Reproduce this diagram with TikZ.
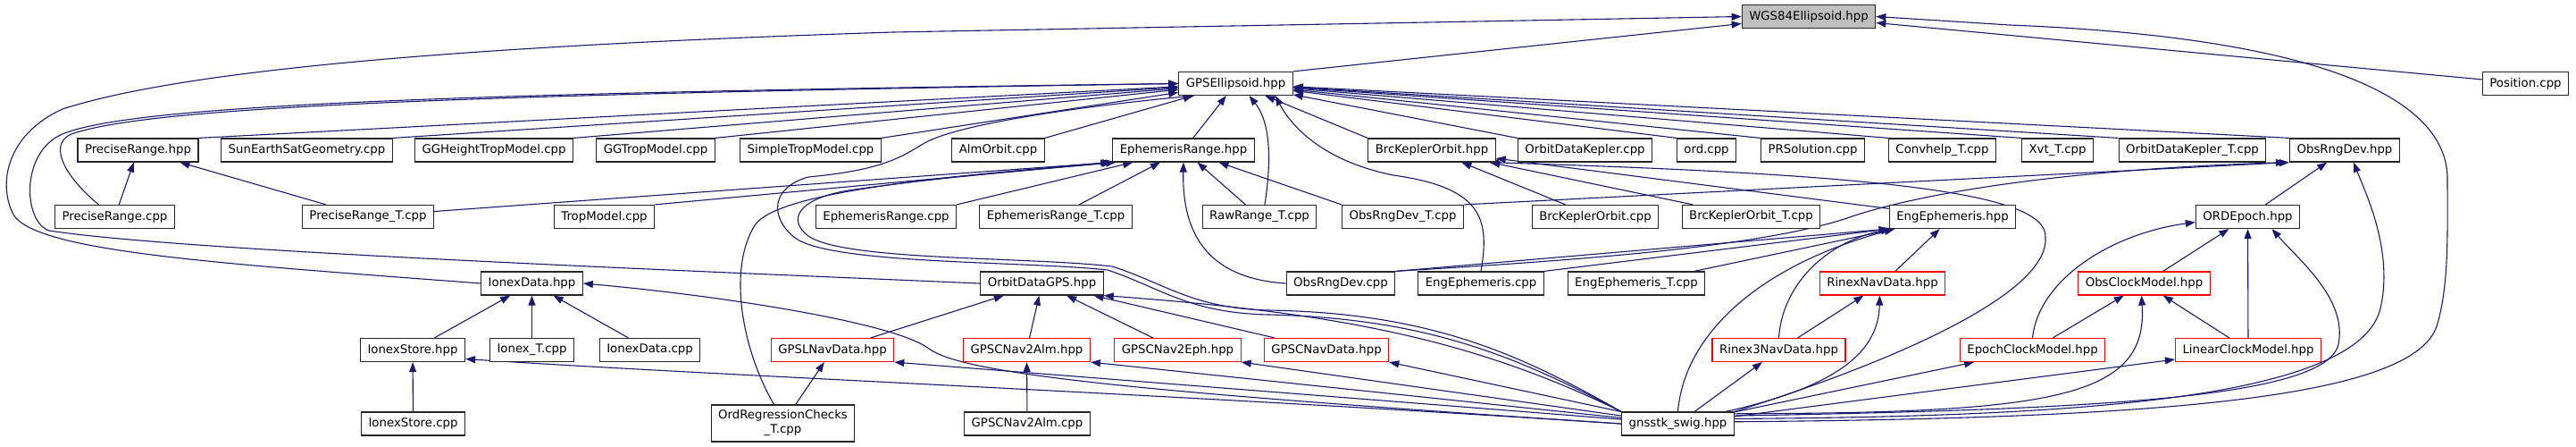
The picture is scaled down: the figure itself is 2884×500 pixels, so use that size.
\documentclass[tikz,border=0pt]{standalone}
\usepackage{fontspec}
\setsansfont{DejaVu Sans}
\usepackage{xcolor}
\definecolor{edgeblue}{RGB}{25,25,112}
\definecolor{rootgrey}{RGB}{191,191,191}
\tikzset{every picture/.style={/utils/exec={\sffamily}}}
\usetikzlibrary{calc}
\usetikzlibrary{arrows.meta,backgrounds}

\tikzset{
  file/.style={draw=black!85, line width=1.2pt, fill=white, minimum height=26pt,
    inner xsep=8pt, inner ysep=1pt, font=\fontsize{13.3}{16}\selectfont},
  trunc/.style={file, draw=red},
  root/.style={file, fill=rootgrey},
  inc/.style={draw=edgeblue, line width=1.1pt, -{Triangle[length=11pt,width=8pt]}},
}

\begin{document}
\begin{tikzpicture}[x=1pt, y=-1pt]
  \useasboundingbox (0,0) rectangle (2884,500);

  \node [root] (wgs) at (2025,18.5) {WGS84Ellipsoid.hpp};
  \node [file] (gpsell) at (1383.5,93.5) {GPSEllipsoid.hpp};
  \node [file] (posncpp) at (2827.5,93.5) {Position.cpp};

  \foreach \nm/\x/\lbl in {prh/154.5/PreciseRange.hpp, sunearth/343.5/SunEarthSatGeometry.cpp,
      gghtrop/553/GGHeightTropModel.cpp, ggtrop/734/GGTropModel.cpp, simptrop/907.5/SimpleTropModel.cpp,
      almorbit/1117.5/AlmOrbit.cpp, ephrh/1325/EphemerisRange.hpp, brckh/1603/BrcKeplerOrbit.hpp,
      odkepcpp/1774.5/OrbitDataKepler.cpp, ordcpp/1910.5/ord.cpp, prsol/2029.5/PRSolution.cpp,
      convhelp/2174.5/Convhelp\_T.cpp, xvtt/2303.5/Xvt\_T.cpp, odkept/2454.5/OrbitDataKepler\_T.cpp,
      ordevh/2625/ObsRngDev.hpp}
    \node [file] (\nm) at (\x,168) {\lbl};

  \foreach \nm/\x/\lbl in {prcpp/128.5/PreciseRange.cpp, prtcpp/412/PreciseRange\_T.cpp,
      tropcpp/676.5/TropModel.cpp, ephrcpp/992/EphemerisRange.cpp, ephrtcpp/1182/EphemerisRange\_T.cpp,
      rawrt/1410/RawRange\_T.cpp, ordevtcpp/1570.5/ObsRngDev\_T.cpp, brckcpp/1786/BrcKeplerOrbit.cpp,
      brcktcpp/1960.5/BrcKeplerOrbit\_T.cpp, engephh/2186/EngEphemeris.hpp, ordepoch/2516.5/ORDEpoch.hpp}
    \node [file] (\nm) at (\x,242.5) {\lbl};

  \foreach \nm/\x/\lbl in {ionexh/595.5/IonexData.hpp, odgps/1166.5/OrbitDataGPS.hpp,
      ordevcpp/1501/ObsRngDev.cpp, engephcpp/1658/EngEphemeris.cpp, engephtcpp/1832/EngEphemeris\_T.cpp}
    \node [file] (\nm) at (\x,317) {\lbl};
  \node [trunc] (rinexnav) at (2107.5,317) {RinexNavData.hpp};
  \node [trunc] (obsclock) at (2400.5,317) {ObsClockModel.hpp};

  \foreach \nm/\x/\lbl in {ionstoreh/462/IonexStore.hpp, ionext/595.5/Ionex\_T.cpp, ionexcpp/727.5/IonexData.cpp}
    \node [file] (\nm) at (\x,391.5) {\lbl};
  \foreach \nm/\x/\lbl in {gpslnav/932/GPSLNavData.hpp, cnav2almh/1149.5/GPSCNav2Alm.hpp,
      cnav2eph/1318.5/GPSCNav2Eph.hpp, cnavdata/1485/GPSCNavData.hpp, rinex3nav/1991.5/Rinex3NavData.hpp,
      epochclock/2275.5/EpochClockModel.hpp, linclock/2517/LinearClockModel.hpp}
    \node [trunc] (\nm) at (\x,391.5) {\lbl};

  \node [file] (ionstorecpp) at (462.5,474) {IonexStore.cpp};
  \node [file, minimum height=41pt, align=center] (ordreg) at (876.5,473.5) {OrdRegressionChecks\\\_T.cpp};
  \node [file] (cnav2almcpp) at (1150,474) {GPSCNav2Alm.cpp};
  \node [file] (swig) at (1878.5,474) {gnsstk\_swig.hpp};

  \begin{scope}[on background layer]
    \fill [white] (0,0) rectangle (2884,500);

    \foreach \src/\dst in {gpsell.north east/wgs, posncpp/wgs,
        prh.north east/gpsell, sunearth.north east/gpsell, gghtrop.north east/gpsell,
        ggtrop.north east/gpsell, simptrop.north east/gpsell, almorbit.north east/gpsell, ephrh/gpsell,
        brckh.north west/gpsell, odkepcpp.north west/gpsell, ordcpp.north west/gpsell,
        prsol.north west/gpsell, convhelp.north west/gpsell, xvtt.north west/gpsell,
        odkept.north west/gpsell, ordevh.north west/gpsell,
        prcpp/prh, prtcpp/prh,
        tropcpp.north east/ephrh.south west, ephrcpp.north east/ephrh, ephrtcpp/ephrh, rawrt/ephrh,
        ordevtcpp.north west/ephrh,
        brckcpp/brckh, brcktcpp/brckh, engephh/brckh,
        ordepoch/ordevh, ordevtcpp.north east/ordevh.south west,
        ordevcpp.north east/engephh.south west, engephcpp.north east/engephh.south west,
        engephtcpp/engephh, rinexnav/engephh,
        obsclock/ordepoch, linclock/ordepoch, epochclock/obsclock, linclock/obsclock,
        ionstoreh/ionexh, ionext/ionexh, ionexcpp/ionexh, ionstorecpp/ionstoreh,
        gpslnav/odgps, cnav2almh/odgps, cnav2eph/odgps, cnavdata/odgps, cnav2almcpp/cnav2almh,
        ordreg/gpslnav, rinex3nav/rinexnav, swig/rinex3nav, swig/linclock, swig/epochclock,
        swig/gpslnav.south east, swig/cnav2almh.south east, swig/cnav2eph.south east,
        swig/cnavdata.south east}
      \draw [inc] (\src) -- (\dst);

    \draw [inc] ($(prtcpp.east)+(0,-6)$) -- (ephrh.south west);

    % long ways round on the left
    \draw [inc] (ionexh.west) .. controls (250,295) and (40,282) .. (15,240)
      .. controls (-3,205) and (8,150) .. (70,122) .. controls (200,80) and (500,52) .. (1000,36) -- (wgs.west);
    \draw [inc] (odgps.west) .. controls (700,300) and (200,280) .. (55,258)
      .. controls (25,248) and (22,165) .. (75,148) .. controls (160,118) and (500,104) .. (gpsell.west);
    \draw [inc] ($(prcpp.north)+(-18,0)$) .. controls (75,200) and (52,162) .. (80,150)
      .. controls (165,120) and (500,106) .. (gpsell.west);

    % long ways round on the right
    \draw [inc] (swig.2) .. controls (2400,468) and (2700,448) .. (2728,365)
      .. controls (2742,320) and (2740,260) .. (2740,200) .. controls (2740,110) and (2600,42) .. (2250,28) -- (wgs.east);
    \draw [inc] (swig.5) .. controls (2300,466) and (2640,450) .. (2665,345)
      .. controls (2680,280) and (2648,215) .. ($(ordevh.south)+(10,0)$);
    \draw [inc] (swig.8) .. controls (2350,458) and (2605,445) .. (2618,385)
      .. controls (2628,335) and (2575,292) .. ($(ordepoch.south)+(27,0)$);
    \draw [inc] (swig.10) .. controls (2300,462) and (2405,445) .. ($(obsclock.south)+(-3,0)$);
    \draw [inc] (swig.north east) .. controls (2150,395) and (2295,322) .. (2290,265)
      .. controls (2292,215) and (2100,195) .. ($(brckh.south east)+(-8,0)$);
    \draw [inc] (swig.north) .. controls (1885,380) and (1960,300) .. ($(engephh.south west)+(6,0)$);
    \draw [inc] ($(swig.north east)+(-10,0)$) .. controls (2060,432) and (2103,392) .. ($(rinexnav.south)+(-3,0)$);
    \draw [inc] (rinex3nav.north) .. controls (1995,322) and (2040,272) .. ($(engephh.south west)+(2,0)$);
    \draw [inc] (epochclock.north) .. controls (2282,315) and (2360,262) .. ($(ordepoch.west)+(0,6)$);

    % from gnsstk_swig.hpp round to the top
    \draw [inc] (swig.north west) .. controls (1700,400) and (1600,356) .. (1420,352)
      .. controls (1330,350) and (1300,322) .. (1240,302) .. controls (1150,292) and (930,296) .. (890,266)
      .. controls (862,244) and (862,210) .. (905,198) .. controls (990,190) and (1010,175) .. (1035,160)
      .. controls (1080,135) and (1250,115) .. ($(gpsell.south west)+(18,0)$);
    \draw [inc] (swig.north west) .. controls (1700,395) and (1600,350) .. (1420,347)
      .. controls (1335,345) and (1305,317) .. (1245,298) .. controls (1150,287) and (945,292) .. (905,264)
      .. controls (880,245) and (895,222) .. (950,213) .. controls (1050,198) and (1180,188) .. ($(ephrh.south west)+(4,0)$);
    \draw [inc] (swig.north west) .. controls (1650,380) and (1500,350) .. (odgps.south east);
    \draw [inc] (swig.west) .. controls (1300,440) and (1080,420) .. (1040,390)
      .. controls (1000,360) and (800,330) .. (ionexh.east);
    \draw [inc] (swig.west) .. controls (1300,440) and (800,420) .. ($(ionstoreh.east)+(0,10)$);

    \draw [inc] ($(ordreg.north)+(-10,0)$) .. controls (830,390) and (815,300) .. (845,252)
      .. controls (870,215) and (1050,198) .. ($(ephrh.south west)+(-2,0)$);
    \draw [inc] (ordevcpp.west) .. controls (1362,312) and (1323,272) .. (ephrh.south);
    \draw [inc] ($(rawrt.north)+(6,0)$) .. controls (1422,190) and (1425,140) .. ($(gpsell.south)+(15,0)$);
    \draw [inc] (engephcpp.north) .. controls (1668,245) and (1660,210) .. (1560,196)
      .. controls (1480,180) and (1445,140) .. ($(gpsell.south east)+(-20,0)$);
    \draw [inc] (ordevcpp.north east) .. controls (1750,292) and (1960,278) .. (2065,245)
      .. controls (2140,218) and (2300,190) .. ($(ordevh.south west)+(-4,0)$);
  \end{scope}
\end{tikzpicture}
\end{document}
